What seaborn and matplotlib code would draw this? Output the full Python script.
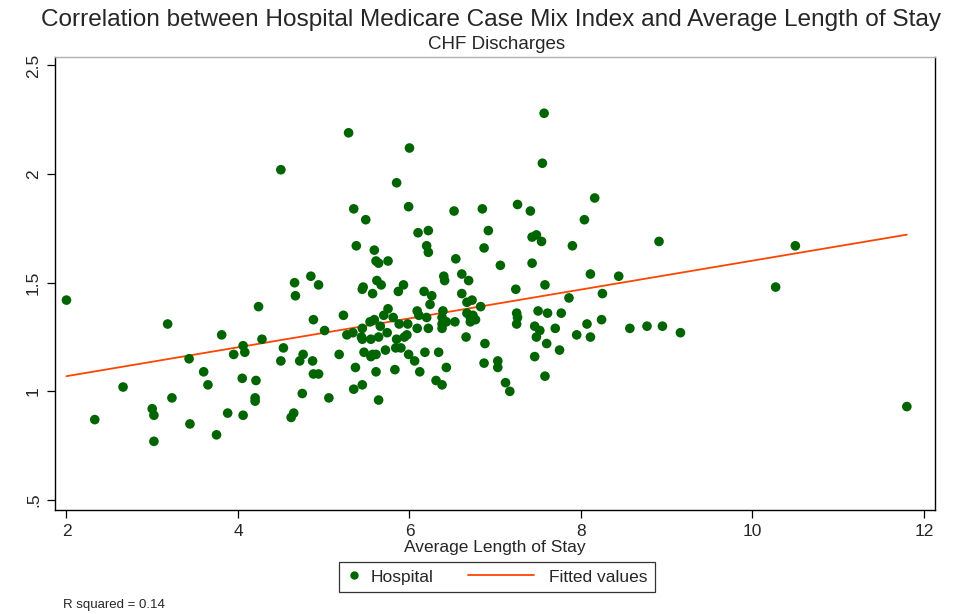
import numpy as np
import pandas as pd
import matplotlib
matplotlib.use("Agg")
import matplotlib.pyplot as plt
import seaborn as sns
from matplotlib.lines import Line2D
from matplotlib.legend_handler import HandlerBase

# Average length of stay (days) per hospital
alos = [
    2.00, 2.33, 2.66, 3.18, 3.00, 3.02, 3.02, 3.23, 3.43, 3.44,
    3.60, 3.65, 3.75, 3.81, 3.88, 3.95, 4.05, 4.06, 4.06, 4.08,
    4.20, 4.20, 4.21, 4.24, 4.28, 4.50, 4.50, 4.53, 4.62, 4.65,
    4.66, 4.67, 4.72, 4.75, 4.76, 4.85, 4.87, 4.88, 4.88, 4.94,
    4.94, 5.01, 5.06, 5.18, 5.23, 5.27, 5.29, 5.34, 5.35, 5.35,
    5.37, 5.38, 5.44, 5.45, 5.45, 5.45, 5.46, 5.45, 5.47, 5.49,
    5.54, 5.59, 5.55, 5.55, 5.57, 5.57, 5.61, 5.59, 5.61, 5.61,
    5.64, 5.62, 5.67, 5.64, 5.64, 5.66, 5.70, 5.72, 5.74, 5.75,
    5.75, 5.81, 5.83, 5.84, 5.85, 5.85, 5.87, 5.88, 5.90, 5.93,
    5.94, 5.97, 5.98, 5.99, 5.99, 6.00, 6.06, 6.09, 6.09, 6.10,
    6.11, 6.12, 6.17, 6.18, 6.20, 6.20, 6.22, 6.22, 6.22, 6.24,
    6.26, 6.31, 6.34, 6.38, 6.38, 6.38, 6.38, 6.39, 6.40, 6.41,
    6.43, 6.43, 6.52, 6.53, 6.54, 6.61, 6.61, 6.66, 6.67, 6.67,
    6.69, 6.71, 6.71, 6.73, 6.74, 6.77, 6.83, 6.85, 6.87, 6.87,
    6.88, 6.92, 7.03, 7.03, 7.06, 7.12, 7.17, 7.24, 7.25, 7.26,
    7.25, 7.26, 7.41, 7.43, 7.48, 7.54, 7.43, 7.46, 7.46, 7.48,
    7.50, 7.52, 7.55, 7.57, 7.58, 7.58, 7.61, 7.60, 7.70, 7.75,
    7.77, 7.86, 7.90, 7.95, 8.04, 8.07, 8.11, 8.11, 8.16, 8.24,
    8.25, 8.44, 8.57, 8.77, 8.91, 8.95, 9.16, 10.27, 10.50, 11.80,
]

# Medicare case mix index per hospital (same order)
cmi = [
    1.42, 0.87, 1.02, 1.31, 0.92, 0.89, 0.77, 0.97, 1.15, 0.85,
    1.09, 1.03, 0.80, 1.26, 0.90, 1.17, 1.06, 0.89, 1.21, 1.18,
    0.97, 0.955, 1.05, 1.39, 1.24, 2.02, 1.14, 1.20, 0.88, 0.90,
    1.50, 1.44, 1.14, 0.99, 1.17, 1.53, 1.14, 1.33, 1.08, 1.08,
    1.49, 1.28, 0.97, 1.17, 1.35, 1.26, 2.19, 1.27, 1.01, 1.84,
    1.11, 1.67, 1.25, 1.24, 1.29, 1.03, 1.48, 1.47, 1.18, 1.79,
    1.32, 1.33, 1.16, 1.24, 1.45, 1.17, 1.17, 1.65, 1.09, 1.60,
    1.59, 1.51, 1.49, 0.96, 1.25, 1.30, 1.35, 1.19, 1.27, 1.60,
    1.38, 1.34, 1.10, 1.20, 1.96, 1.24, 1.46, 1.31, 1.20, 1.49,
    1.25, 1.26, 1.31, 1.17, 1.85, 2.12, 1.14, 1.37, 1.29, 1.73,
    1.35, 1.09, 1.46, 1.18, 1.34, 1.67, 1.74, 1.64, 1.29, 1.40,
    1.44, 1.05, 1.18, 1.34, 1.31, 1.29, 1.03, 1.37, 1.53, 1.51,
    1.11, 1.32, 1.83, 1.32, 1.61, 1.54, 1.45, 1.25, 1.36, 1.41,
    1.51, 1.34, 1.32, 1.42, 1.35, 1.33, 1.39, 1.84, 1.66, 1.13,
    1.22, 1.74, 1.11, 1.14, 1.58, 1.04, 1.00, 1.47, 1.36, 1.34,
    1.31, 1.86, 1.83, 1.71, 1.72, 1.69, 1.59, 1.30, 1.16, 1.25,
    1.37, 1.28, 2.05, 2.28, 1.49, 1.07, 1.36, 1.22, 1.29, 1.19,
    1.36, 1.43, 1.67, 1.26, 1.79, 1.31, 1.54, 1.25, 1.89, 1.33,
    1.45, 1.53, 1.29, 1.30, 1.69, 1.30, 1.27, 1.48, 1.67, 0.93,
]

x_ticks = [2, 4, 6, 8, 10, 12]
y_ticks = [0.5, 1.0, 1.5, 2.0, 2.5]
y_tick_labels = [".5", "1", "1.5", "2", "2.5"]
r_squared_note = "R squared = 0.14"

df = pd.DataFrame({"alos": alos, "cmi": cmi})

point_color = "#006400"
line_color = "#FF4500"

sns.set_theme(style="white")
plt.rcParams["font.family"] = ["Liberation Sans", "DejaVu Sans"]

fig = plt.figure(figsize=(9.56, 6.14), dpi=100)
ax = fig.add_axes([0.0575, 0.1694, 0.9205, 0.7378])

sns.scatterplot(data=df, x="alos", y="cmi", ax=ax, color=point_color,
                s=48, linewidth=0, edgecolor="none", zorder=3)
sns.regplot(data=df, x="alos", y="cmi", ax=ax, scatter=False, ci=None,
            truncate=True, line_kws={"color": line_color, "lw": 1.3, "zorder": 2})

ax.set_xlim(1.866, 12.128)
ax.set_ylim(0.454, 2.539)
ax.set_xticks(x_ticks)
ax.set_xticklabels([str(t) for t in x_ticks], fontsize=12.5)
ax.set_yticks(y_ticks)
ax.set_yticklabels(y_tick_labels, fontsize=12.5, rotation=90, va="center")
ax.tick_params(axis="both", direction="out", length=6, width=0.9,
               color="black", pad=4, bottom=True, left=True)
ax.set_xlabel("Average Length of Stay", fontsize=12.5, labelpad=1)
ax.set_ylabel("")
for side, sp in ax.spines.items():
    sp.set_visible(True)
    sp.set_color("black")
    sp.set_linewidth(1.0)
ax.spines["top"].set_color("#b0b0b0")

fig.text(0.514, 0.967, "Correlation between Hospital Medicare Case Mix Index and Average Length of Stay",
         ha="center", va="center", fontsize=17.6)
fig.text(0.519, 0.928, "CHF Discharges", ha="center", va="center", fontsize=13.5)


class LongLineHandler(HandlerBase):
    """Fit-line legend key that reaches back into the gap before it."""

    def create_artists(self, legend, orig_handle, xdescent, ydescent,
                       width, height, fontsize, trans):
        y = height / 2 - ydescent
        line = Line2D([width - 51 - xdescent, width - 4 - xdescent], [y, y],
                      color=orig_handle.get_color(), lw=orig_handle.get_linewidth())
        line.set_transform(trans)
        return [line]


dot_handle = Line2D([], [], marker="o", linestyle="none", color=point_color, markersize=5)
fit_handle = Line2D([], [], color=line_color, lw=1.3)
leg = fig.legend([dot_handle, fit_handle], ["Hospital", "Fitted values"], loc="center",
                 bbox_to_anchor=(0.520, 0.0603), ncol=2, frameon=True, fancybox=False,
                 edgecolor="black", fontsize=12.5, handlelength=0.8, columnspacing=5.3,
                 borderpad=0.45, handletextpad=0.55,
                 handler_map={fit_handle: LongLineHandler()})
leg.get_frame().set_linewidth(0.9)

fig.text(0.066, 0.015, r_squared_note, ha="left", va="center", fontsize=9.5)

fig.savefig("out.png", dpi=100, facecolor="white")
